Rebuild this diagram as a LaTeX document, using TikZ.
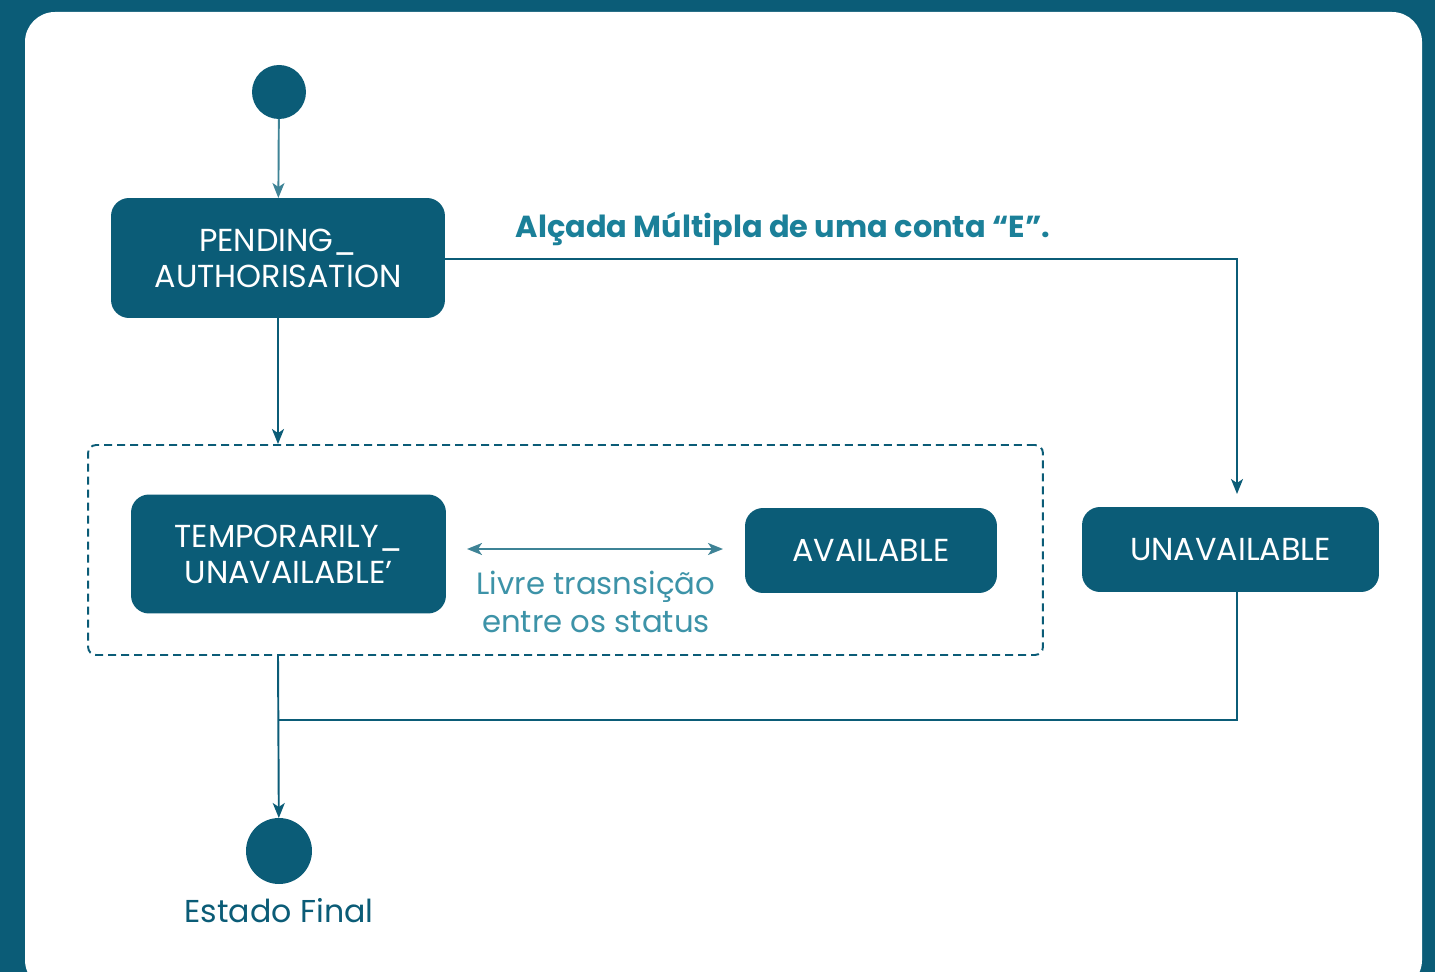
\documentclass[tikz,border=0pt]{standalone}
\usepackage{fontspec}
\setmainfont{Poppins}
\usetikzlibrary{arrows.meta}
\definecolor{petrol}{HTML}{0B5C77}
\definecolor{petrolclaro}{HTML}{3E8396}
\definecolor{rotulo}{HTML}{1B8099}
\tikzset{%
	estado/.style={inner sep=0pt,outer sep=0pt,shape=rectangle,rounded corners=0.36cm,fill=petrol,text=white,align=center,font=\fontsize{18.1}{20.5}\selectfont},
	ponto/.style={circle,fill=petrol,inner sep=0pt,outer sep=0pt},
	seta/.style={-{Stealth[length=0.3cm,width=0.24cm,inset=0.08cm]},draw=petrol,line width=1.1pt},
	linha/.style={draw=petrol,line width=1.1pt},
	grupo/.style={draw=petrol,line width=1.1pt,dash pattern=on 0.16cm off 0.1cm,rounded corners=0.16cm,inner sep=0pt},
}
\begin{document}
\begin{tikzpicture}[x=0.02cm,y=-0.02cm]
			\useasboundingbox (0,0) rectangle (1435,972);
			\fill[petrol] (0,0) rectangle (1435,972);
			\fill[white, rounded corners=0.6cm] (25,12) rectangle (1422,990);
			\node[ponto, minimum size=1.08cm] (inicio) at (279,92) {};
			\node[estado, minimum width=6.68cm, minimum height=2.4cm] (pending) at (278,258) {PENDING\_\\AUTHORISATION};
			\node[grupo, minimum width=19.1cm, minimum height=4.2cm] (grupo) at (565.5,550) {};
			\node[estado, minimum width=6.3cm, minimum height=2.38cm] (temp) at (288.5,554) {TEMPORARILY\_\\UNAVAILABLE’};
			\node[estado, minimum width=5.04cm, minimum height=1.7cm] (available) at (871,550.5) {AVAILABLE};
			\node[estado, minimum width=5.94cm, minimum height=1.7cm] (unavailable) at (1230.5,549.5) {UNAVAILABLE};
			\node[ponto, minimum size=1.32cm] (fim) at (279,851) {};
			\node[text=petrol, font=\fontsize{18}{20}\selectfont, below=0pt] (fimrot) at (279,892) {Estado Final};
			\node[text=rotulo, font=\bfseries\fontsize{17.3}{20}\selectfont] (alcada) at (783,229) {Alçada Múltipla de uma conta “E”.};
			\node[text=rotulo!85!white, align=center, font=\fontsize{17.5}{21.5}\selectfont] (livre) at (596,602) {Livre trasnsição\\entre os status};
			\coordinate (ta) at (467,549);
			\coordinate (tb) at (723,549);
			\coordinate (junta) at (279,720);
			\coordinate (chega) at (1237,494);
			\draw[seta, draw=petrolclaro] (inicio) -- (pending);
			\draw[seta] (pending) -- (pending |- grupo.north);
			\draw[seta] (pending.east |- 0,259) -| (chega);
			\draw[seta, draw=petrolclaro, {Stealth[length=0.3cm,width=0.24cm,inset=0.08cm]}-{Stealth[length=0.3cm,width=0.24cm,inset=0.08cm]}] (ta) -- (tb);
			\draw[seta] (pending |- grupo.south) -- (fim);
			\draw[linha] (unavailable.south -| chega) |- (junta);
		\end{tikzpicture}
\end{document}
